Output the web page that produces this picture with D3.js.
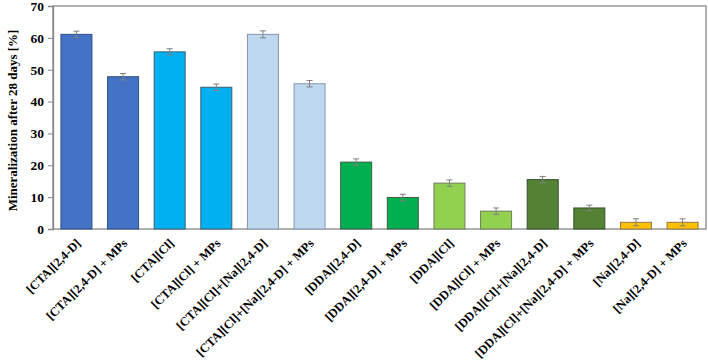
<!DOCTYPE html>
<html><head><meta charset="utf-8">
<script src="https://cdn.jsdelivr.net/npm/d3@7"></script>
<style>body{margin:0;background:#fff}svg{display:block}text{font-family:'Liberation Serif','Times New Roman',serif;font-weight:bold}</style>
</head><body>
<svg id="c" width="708" height="361"></svg>
<script>
const categories = ["[CTA][2,4-D]","[CTA][2,4-D] + MPs","[CTA][Cl]","[CTA][Cl] + MPs","[CTA][Cl]+[Na][2,4-D]","[CTA][Cl]+[Na][2,4-D] + MPs","[DDA][2,4-D]","[DDA][2,4-D] + MPs","[DDA][Cl]","[DDA][Cl] + MPs","[DDA][Cl]+[Na][2,4-D]","[DDA][Cl]+[Na][2,4-D] + MPs","[Na][2,4-D]","[Na][2,4-D] + MPs"];
const values = [61.1, 47.8, 55.6, 44.5, 61.1, 45.6, 21.0, 9.9, 14.4, 5.6, 15.5, 6.6, 2.1, 2.1];
const errors = [1.0, 1.0, 1.0, 1.0, 1.1, 1.0, 1.0, 1.0, 1.0, 1.0, 1.0, 0.9, 1.1, 1.1];
const fills = ["#4472C4","#4472C4","#00B0F0","#00B0F0","#BDD7EE","#BDD7EE","#00B050","#00B050","#92D050","#92D050","#548235","#548235","#FFC000","#FFC000"];
const strokes = ["#2F4F86","#2F4F86","#3A5F74","#3A5F74","#8497B0","#8497B0","#3D5E45","#3D5E45","#6E7F5A","#6E7F5A","#34502A","#34502A","#8C7A4A","#8C7A4A"];
const yTicks = [0,10,20,30,40,50,60,70];
const yTitle = "Mineralization after 28 days [%]";

const FONT = "'Liberation Serif','Times New Roman',serif";
const svg = d3.select("#c");
const L = 53, R = 706, T = 6, B = 229;
const x = d3.scaleBand().domain(categories).range([L, R]).paddingInner(0.335).paddingOuter(0.17);
const y = d3.scaleLinear().domain([0, 70]).range([B, T]);

// plot frame
svg.append("rect").attr("x", L).attr("y", T).attr("width", R - L).attr("height", B - T)
  .attr("fill", "none").attr("stroke", "#868686").attr("stroke-width", 1.3);

// bars
svg.append("g").selectAll("rect").data(values).join("rect")
  .attr("x", (d, i) => x(categories[i]))
  .attr("y", d => y(d))
  .attr("width", x.bandwidth())
  .attr("height", d => B - y(d))
  .attr("fill", (d, i) => fills[i])
  .attr("stroke", (d, i) => strokes[i])
  .attr("stroke-width", 1);

// error bars
const eb = svg.append("g").attr("stroke", "#808080").attr("stroke-width", 1);
values.forEach((v, i) => {
  const cx = x(categories[i]) + x.bandwidth() / 2;
  eb.append("line").attr("x1", cx).attr("x2", cx).attr("y1", y(v + errors[i])).attr("y2", y(v - errors[i]));
  eb.append("line").attr("x1", cx - 3).attr("x2", cx + 3).attr("y1", y(v + errors[i])).attr("y2", y(v + errors[i]));
  eb.append("line").attr("x1", cx - 3).attr("x2", cx + 3).attr("y1", y(v - errors[i])).attr("y2", y(v - errors[i]));
});

// y axis
const ya = svg.append("g").attr("transform", `translate(${L},0)`)
  .call(d3.axisLeft(y).tickValues(yTicks).tickSize(5).tickPadding(4));
ya.attr("font-family", null).attr("font-size", null);
ya.select(".domain").attr("stroke", "#868686").attr("stroke-width", 1.3);
ya.selectAll(".tick line").attr("stroke", "#868686");
ya.selectAll(".tick text").style("font-family", FONT)
  .style("font-weight", "bold").style("font-size", "13.5px").attr("fill", "#000");

// x labels
svg.append("g").selectAll("text").data(categories).join("text")
  .attr("transform", d => `translate(${x(d) + x.bandwidth() / 2 + 3},${B + 13}) rotate(-45)`)
  .attr("text-anchor", "end")
  .attr("dominant-baseline", "middle")
  .style("font-family", FONT)
  .style("font-weight", "bold").style("font-size", "12.5px").attr("fill", "#000")
  .text(d => d);

// y title
svg.append("text")
  .attr("transform", `translate(14,${(T + B) / 2 + 3}) rotate(-90)`)
  .attr("text-anchor", "middle")
  .attr("dominant-baseline", "middle")
  .style("font-family", FONT)
  .style("font-weight", "bold").style("font-size", "13px").attr("fill", "#000")
  .text(yTitle);
</script>
</body></html>
